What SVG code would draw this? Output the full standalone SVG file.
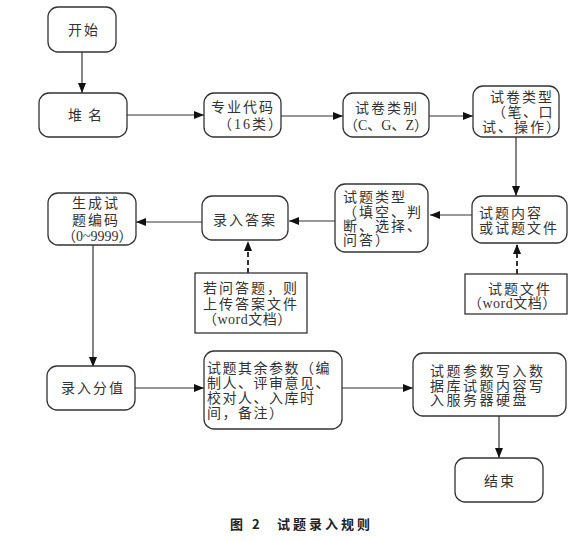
<svg xmlns="http://www.w3.org/2000/svg" width="574" height="541" viewBox="0 0 574 541">
<style>
.n rect{fill:#fff;stroke:#333;stroke-width:1.3}
text{font-family:"Liberation Serif","Noto Sans CJK SC",serif;font-size:14px;fill:#333;dominant-baseline:central;letter-spacing:2px}
.c line{stroke:#333;stroke-width:1.2}
.d{stroke-dasharray:5,3;stroke-width:2!important}
.cap{font-weight:bold;font-family:"Noto Sans CJK SC",sans-serif;font-size:13px;fill:#222;letter-spacing:3px}
</style>
<defs>
<marker id="a" viewBox="0 0 10 10" refX="10" refY="5" markerWidth="10" markerHeight="10" markerUnits="userSpaceOnUse" orient="auto"><path d="M0,1L10,5L0,9z" fill="#111"/></marker>
</defs>
<g class="c">
<line x1="82" y1="52" x2="82" y2="93" marker-end="url(#a)"/>
<line x1="127" y1="115" x2="204" y2="115" marker-end="url(#a)"/>
<line x1="281" y1="116" x2="343" y2="116" marker-end="url(#a)"/>
<line x1="429" y1="116" x2="473" y2="116" marker-end="url(#a)"/>
<line x1="516" y1="137" x2="516" y2="196" marker-end="url(#a)"/>
<line x1="472" y1="215" x2="430" y2="215" marker-end="url(#a)"/>
<line x1="335" y1="221" x2="289" y2="221" marker-end="url(#a)"/>
<line x1="202" y1="222" x2="136" y2="222" marker-end="url(#a)"/>
<line class="d" x1="248" y1="273" x2="248" y2="241" marker-end="url(#a)"/>
<line class="d" x1="517" y1="274" x2="517" y2="244" marker-end="url(#a)"/>
<line x1="93" y1="245" x2="93" y2="367" marker-end="url(#a)"/>
<line x1="135" y1="388" x2="204" y2="388" marker-end="url(#a)"/>
<line x1="342" y1="388" x2="413" y2="388" marker-end="url(#a)"/>
<line x1="499" y1="416" x2="499" y2="458" marker-end="url(#a)"/>
</g>
<g id="start" class="n"><rect x="48" y="7" width="68" height="45" rx="10"/><text x="68" y="30">开始</text></g>
<g id="duiming" class="n"><rect x="39" y="93" width="88" height="44" rx="10"/><text x="68" y="115" style="letter-spacing:6px">堆名</text></g>
<g id="zhuanye" class="n"><rect x="204" y="93" width="77" height="44" rx="10"/><text x="211" y="107">专业代码</text><text x="218" y="124">（16类）</text></g>
<g id="shijuanleibie" class="n"><rect x="343" y="93" width="86" height="44" rx="10"/><text x="355" y="108">试卷类别</text><text x="344" y="125" style="letter-spacing:0">（C、G、Z）</text></g>
<g id="shijuanleixing" class="n"><rect x="473" y="86" width="86" height="51" rx="10"/><text x="490" y="97">试卷类型</text><text x="492" y="112" style="letter-spacing:1.5px">（笔、口</text><text x="482" y="127">试、操作）</text></g>
<g id="shitineirong" class="n"><rect x="472" y="196" width="95" height="47" rx="10"/><text x="479" y="213">试题内容</text><text x="479" y="228">或试题文件</text></g>
<g id="shitileixing" class="n"><rect x="335" y="184" width="93" height="68" rx="10"/><text x="343" y="197">试题类型</text><text x="343" y="212">（填空、判</text><text x="343" y="226">断、选择、</text><text x="343" y="240">问答）</text></g>
<g id="lurudaan" class="n"><rect x="202" y="196" width="86" height="44" rx="10"/><text x="213" y="220">录入答案</text></g>
<g id="shengcheng" class="n"><rect x="48" y="193" width="88" height="52" rx="10"/><text x="72" y="203">生成试</text><text x="72" y="220">题编码</text><text x="62" y="236" style="letter-spacing:0">（0~9999）</text></g>
<g id="wendati" class="n"><rect x="195" y="273" width="112" height="60" rx="0"/><text x="203" y="288">若问答题，则</text><text x="203" y="304">上传答案文件</text><text x="203" y="319" style="letter-spacing:0.5px">（word文档）</text></g>
<g id="shitiwenjian" class="n"><rect x="465" y="274" width="102" height="40" rx="0"/><text x="488" y="289">试题文件</text><text x="468" y="303" style="letter-spacing:0.5px">（word文档）</text></g>
<g id="lurufenzhi" class="n"><rect x="47" y="366" width="88" height="44" rx="10"/><text x="61" y="388">录入分值</text></g>
<g id="qiyucanshu" class="n"><rect x="204" y="351" width="138" height="78" rx="10"/><text x="207" y="368" style="letter-spacing:1.5px">试题其余参数（编</text><text x="207" y="383" style="letter-spacing:1.5px">制人、评审意见、</text><text x="207" y="398" style="letter-spacing:1.5px">校对人、入库时</text><text x="207" y="413" style="letter-spacing:1.5px">间，备注）</text></g>
<g id="xieru" class="n"><rect x="413" y="353" width="153" height="63" rx="10"/><text x="430" y="371" style="letter-spacing:2.5px">试题参数写入数</text><text x="430" y="386" style="letter-spacing:2.5px">据库试题内容写</text><text x="430" y="400" style="letter-spacing:2.5px">入服务器硬盘</text></g>
<g id="end" class="n"><rect x="455" y="458" width="88" height="44" rx="10"/><text x="484" y="481">结束</text></g>
<text class="cap" x="230" y="523">图 2</text>
<text class="cap" x="277" y="523">试题录入规则</text>
</svg>
